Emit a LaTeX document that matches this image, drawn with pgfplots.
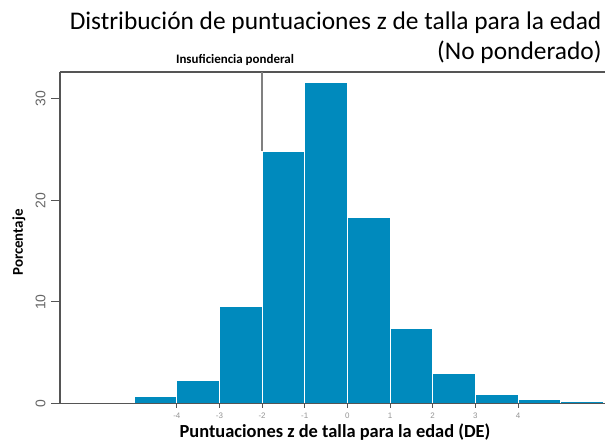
\documentclass[border=0pt]{standalone}
\usepackage{pgfplots}
\pgfplotsset{compat=1.18}
\usepackage{fontspec}
\setmainfont{Carlito}
\newfontfamily\arial{Liberation Sans}

\definecolor{barblue}{HTML}{008ABD}
\definecolor{axisgray}{HTML}{555555}
\definecolor{ticktext}{HTML}{666666}

\begin{document}
\begin{tikzpicture}
\path[use as bounding box] (-60bp,-37.5bp) rectangle (550bp,403.5bp);
\begin{axis}[
    scale only axis,
    width=545bp, height=331.5bp,
    xmin=-6.74, xmax=6.04,
    ymin=0, ymax=32.66,
    axis lines*=left,
    axis line style={axisgray, line width=1.3bp},
    tick align=outside,
    major tick length=4bp,
    xtick={-4,-3,-2,-1,0,1,2,3,4},
    ytick={0,10,20,30},
    y tick style={draw=none},
    x tick style={axisgray, line width=1bp},
    xticklabel style={font=\arial\fontsize{8}{8}\selectfont, text=ticktext!70, yshift=-2bp},
    yticklabel style={font=\arial\fontsize{14}{14}\selectfont, text=ticktext, rotate=90, anchor=south, yshift=7bp},
    /pgf/number format/assume math mode=true,
    clip=false,
]
\addplot[ybar interval, fill=barblue, draw=white, line width=0.8bp]
    coordinates {(-5,0.69) (-4,2.3) (-3,9.57) (-2,24.86) (-1,31.65) (0,18.3)
                 (1,7.4) (2,2.95) (3,0.92) (4,0.36) (5,0.2) (6,0.2)};
\draw[axisgray, line width=1.3bp] (rel axis cs:0,1) -- (rel axis cs:1,1);
\draw[gray, line width=1.4bp] (axis cs:-2,32.66) -- (axis cs:-2,24.86);
\draw[axisgray, line width=1.3bp] (rel axis cs:0,0) -- (rel axis cs:1,0);
\end{axis}
\draw[axisgray, line width=1bp] (0,0) -- (-9bp,0);
\draw[axisgray, line width=1bp] (0,101.5bp) -- (-9bp,101.5bp);
\draw[axisgray, line width=1bp] (0,203bp) -- (-9bp,203bp);
\draw[axisgray, line width=1bp] (0,304.5bp) -- (-9bp,304.5bp);
\node[anchor=base east, font=\fontsize{25.5}{25.5}\selectfont] at (545bp,373.5bp)
    {Distribución de puntuaciones z de talla para la edad};
\node[anchor=base east, font=\fontsize{25.5}{25.5}\selectfont] at (545bp,344bp)
    {(No ponderado)};
\node[anchor=base, font=\bfseries\fontsize{13}{13}\selectfont] at (175bp,340bp)
    {Insuficiencia ponderal};
\node[anchor=base, font=\bfseries\fontsize{18.5}{18.5}\selectfont] at (275bp,-33.5bp)
    {Puntuaciones z de talla para la edad (DE)};
\node[rotate=90, font=\bfseries\fontsize{15}{15}\selectfont] at (-41bp,161bp)
    {Porcentaje};
\end{tikzpicture}
\end{document}
